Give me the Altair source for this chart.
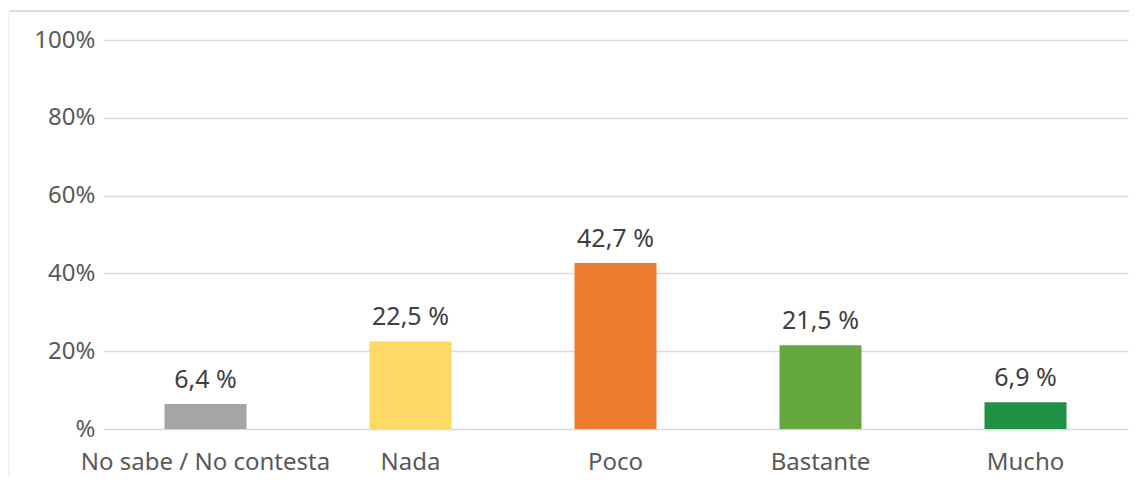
import altair as alt
import pandas as pd

categories = ["No sabe / No contesta", "Nada", "Poco", "Bastante", "Mucho"]
values = [6.4, 22.5, 42.7, 21.5, 6.9]
colors = ["#A5A5A5", "#FFD966", "#ED7D31", "#66A840", "#1E9142"]
y_ticks = [0, 20, 40, 60, 80, 100]

df = pd.DataFrame({
    "cat": categories,
    "val": values,
    "color": colors,
    "label": [f"{v:.1f}".replace(".", ",") + " %" for v in values],
})

FONT = "Noto Sans"

x = alt.X("cat:N", sort=categories, title=None,
          scale=alt.Scale(paddingInner=0.6, paddingOuter=0.3),
          axis=alt.Axis(labelAngle=0, labelFontSize=24, labelColor="#595959",
                        labelFont=FONT, labelPadding=21, ticks=False, domain=False,
                        labelLimit=400))
y = alt.Y("val:Q", title=None,
          scale=alt.Scale(domain=[0, 100]),
          axis=alt.Axis(values=y_ticks, labelExpr="datum.value == 0 ? '%' : datum.value + '%'",
                        labelFontSize=24, labelColor="#595959", labelFont=FONT,
                        labelPadding=8, ticks=False, domain=False,
                        gridColor="#D9D9D9", gridWidth=1.5))

bars = alt.Chart(df).mark_bar().encode(
    x=x, y=y, color=alt.Color("color:N", scale=None)
)

text = alt.Chart(df).mark_text(baseline="alphabetic", dy=-16, fontSize=25,
                               font=FONT, color="#404040").encode(
    x=alt.X("cat:N", sort=categories), y="val:Q", text="label:N"
)

border_top = alt.Chart(df).mark_rule(color="#DDDDDD", strokeWidth=1.5).encode(
    x=alt.value(-94), x2=alt.value(1040), y=alt.value(-29)
)
border_left = alt.Chart(df).mark_rule(color="#F2F2F2", strokeWidth=1).encode(
    x=alt.value(-94), y=alt.value(-29), y2=alt.value(470)
)

chart = alt.layer(border_top, border_left, bars, text).properties(
    width=1025, height=389,
    padding={"left": 95, "top": 32, "right": 1, "bottom": 48},
    autosize=alt.AutoSizeParams(type="none"),
).configure_view(stroke=None).configure_axis(grid=True)
chart = chart.configure_axisX(grid=False)

chart.save("out.html", embed_options={"renderer": "svg", "actions": False})
